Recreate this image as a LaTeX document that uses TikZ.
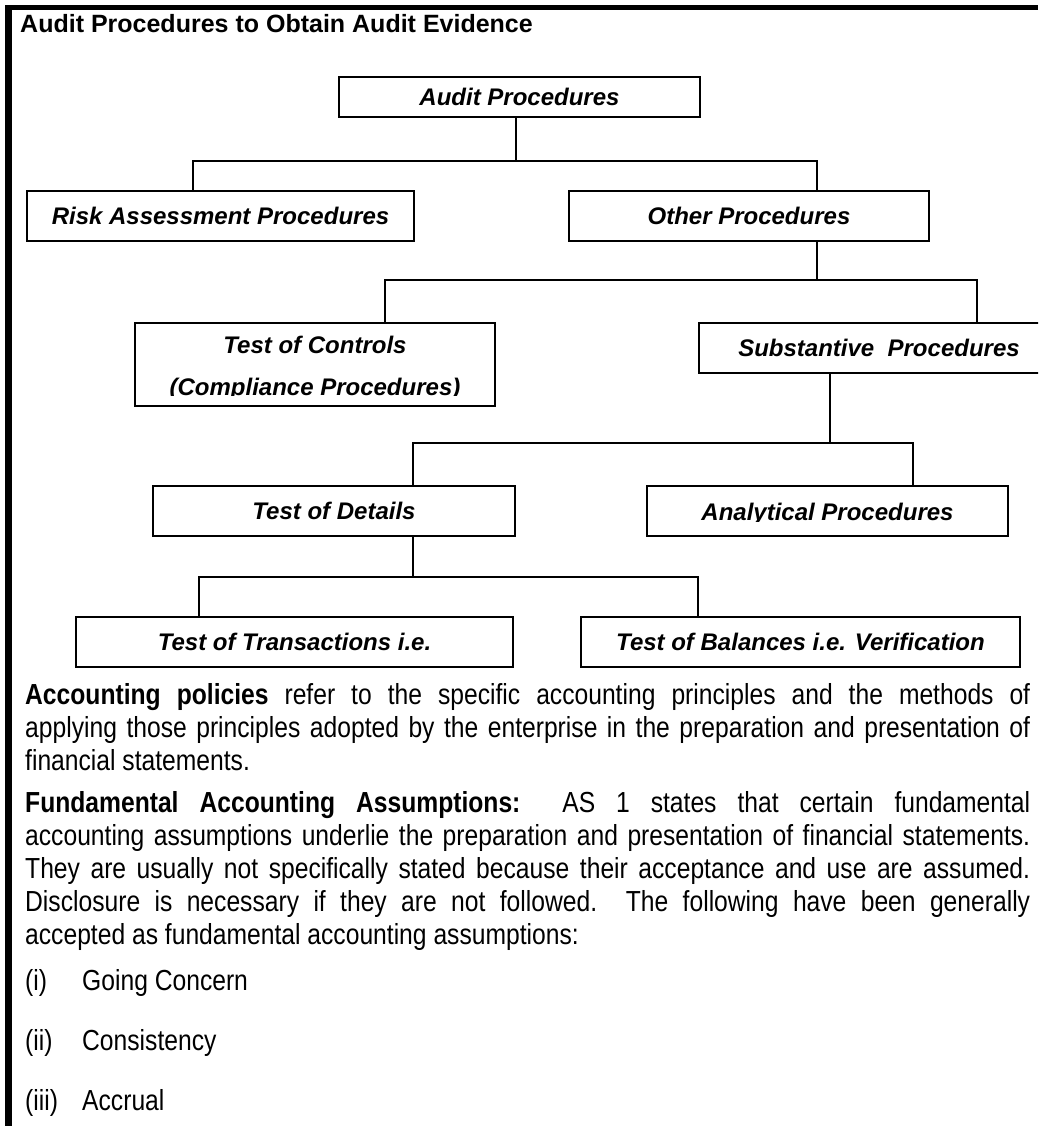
\documentclass[tikz,border=0pt]{standalone}
\usepackage{fontspec}
\setmainfont{Liberation Sans}
\newfontfamily\narrowfont{Liberation Sans}[FakeStretch=0.85]

\begin{document}
\begin{tikzpicture}[x=1pt, y=-1pt,
    box/.style={draw, line width=1.8pt, inner sep=0pt, font=\fontsize{24}{28}\selectfont\bfseries\itshape, text height=17pt, text depth=0pt},
    lbl/.style={inner sep=0pt, font=\fontsize{24}{28}\selectfont\bfseries\itshape},
    link/.style={line width=1.8pt},
    para/.style={inner sep=0pt, anchor=base west, text width=1005pt, align=justify, font=\narrowfont\fontsize{29}{33}\selectfont},
    item/.style={inner sep=0pt, anchor=base west, font=\narrowfont\fontsize{29}{33}\selectfont}]
    \useasboundingbox (0,0) rectangle (1038,1126);
    \clip (0,0) rectangle (1038,1126);
    \fill (5,5) rectangle (1038,10);
    \fill (5,5) rectangle (12,1126);

    \node[anchor=base west, inner sep=0pt, font=\fontsize{25}{30}\selectfont\bfseries] (title) at (20,33) {Audit Procedures to Obtain Audit Evidence};

    \node[box, minimum width=361pt, minimum height=40pt] (ap) at (519.5,97) {Audit Procedures};
    \node[box, minimum width=387pt, minimum height=50pt] (risk) at (220.5,216) {Risk Assessment Procedures};
    \node[box, minimum width=360pt, minimum height=50pt] (other) at (749,216) {Other Procedures};
    \node[box, minimum width=360pt, minimum height=83pt] (toc) at (315,364.5) {};
    \node[box, minimum width=360pt, minimum height=50pt] (subst) at (879,348) {Substantive\ \ Procedures};
    \node[box, minimum width=362pt, minimum height=50pt] (tod) at (334,511) {Test of Details};
    \node[box, minimum width=361pt, minimum height=50pt] (anal) at (827.5,511) {};
    \node[box, minimum width=437pt, minimum height=50pt] (tot) at (294.5,642) {Test of Transactions i.e.};
    \node[box, minimum width=439pt, minimum height=50pt] (tob) at (800.5,642) {Test of Balances i.e. Verification};

    \begin{scope}
        \clip (toc.north west) rectangle (495,395.5);
        \node[lbl, anchor=base] (toc1) at (315,353) {Test of Controls};
        \node[lbl, anchor=base] (toc2) at (315,395) {(Compliance Procedures)};
    \end{scope}
    \begin{scope}
        \clip (anal.north west) rectangle (1008,521);
        \node[lbl, anchor=base] (anal1) at (827.5,520) {Analytical Procedures};
    \end{scope}

    \coordinate (bus1) at (516,161);
    \coordinate (bus2) at (817,280);
    \coordinate (bus3) at (830,443);
    \coordinate (bus4) at (413,577);
    \draw[link]
([xshift=-3.5pt]ap.south) -- (bus1)
([xshift=-27.5pt]risk.north) |- (bus1) -| ([xshift=68pt]other.north)
;
    \draw[link]
([xshift=68pt]other.south) -- (bus2)
([xshift=70pt]toc.north) |- (bus2) -| ([xshift=98pt]subst.north)
;
    \draw[link]
(subst.south -| bus3) -- (bus3)
([xshift=79pt]tod.north) |- (bus3) -| ([xshift=85.5pt]anal.north)
;
    \draw[link]
([xshift=79pt]tod.south) -- (bus4)
([xshift=-95.5pt]tot.north) |- (bus4) -| ([xshift=-102.5pt]tob.north)
;

    \node[para] (pol) at (25,704) {\textbf{Accounting policies} refer to the specific accounting principles and the methods of\linebreak applying those principles adopted by the enterprise in the preparation and presentation of\linebreak financial statements.};
    \node[para] (faa) at (25,812) {\textbf{Fundamental Accounting Assumptions:}\ \ AS 1 states that certain fundamental\linebreak accounting assumptions underlie the preparation and presentation of financial statements.\linebreak They are usually not specifically stated because their acceptance and use are assumed.\linebreak Disclosure is necessary if they are not followed.\ \ The following have been generally\linebreak accepted as fundamental accounting assumptions:};

    \node[item] (n1) at (25,990) {(i)};
    \node[item] (gc) at (82,990) {Going Concern};
    \node[item] (n2) at (25,1050) {(ii)};
    \node[item] (cs) at (82,1050) {Consistency};
    \node[item] (n3) at (25,1110) {(iii)};
    \node[item] (ac) at (82,1110) {Accrual};
\end{tikzpicture}
\end{document}
